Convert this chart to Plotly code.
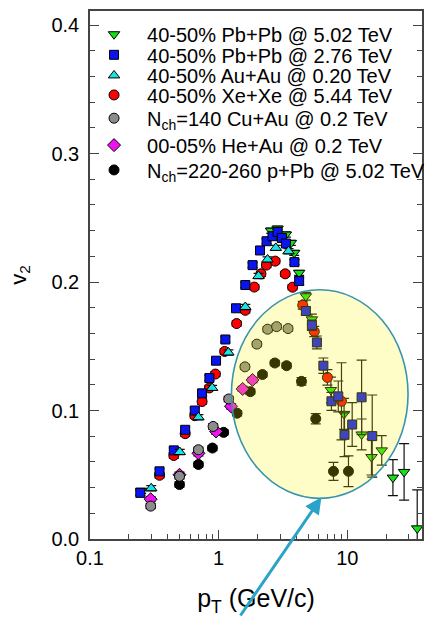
import plotly.graph_objects as go

FONT = "Liberation Sans, Arial, sans-serif"

# ---- data: v2 vs pT -------------------------------------------------------
# 40-50% Pb+Pb @ 5.02 TeV
pbpb502_pt = [0.25, 2.55, 2.87, 3.33, 3.64, 3.86, 4.22, 4.76, 5.3, 7.45, 9.43, 12.9, 15.4, 18.5, 22.6, 27.6, 34.9]
pbpb502_v2 = [0.0375, 0.240, 0.2416, 0.237, 0.2305, 0.2227, 0.2072, 0.189, 0.171, 0.116, 0.0974, 0.0814, 0.0638, 0.069, 0.0478, 0.0522, 0.0083]
pbpb502_err = [0.002, 0.002, 0.002, 0.002, 0.002, 0.002, 0.002, 0.003, 0.004, 0.010, 0.012, 0.012, 0.014, 0.0115, 0.014, 0.022, 0.030]

# 40-50% Pb+Pb @ 2.76 TeV
pbpb276_pt = [0.246, 0.347, 0.448, 0.549, 0.652, 0.743, 0.847, 0.954, 1.127, 1.364, 1.61, 1.834, 2.094, 2.356,
              2.62, 2.87, 3.1, 3.33, 3.88, 4.22, 4.76, 5.3, 5.8, 6.51, 7.52, 8.5, 9.5, 10.9, 12.9, 15.6]
pbpb276_v2 = [0.0359, 0.0527, 0.069, 0.085, 0.100, 0.1134, 0.1253, 0.1388, 0.1553, 0.1796, 0.1977, 0.2132, 0.2246, 0.2318,
              0.2357, 0.239, 0.2343, 0.230, 0.2155, 0.2008, 0.1775, 0.1664, 0.153, 0.1349, 0.1072, 0.111, 0.0811, 0.0891, 0.1103, 0.0801]
pbpb276_err = [0.002, 0.002, 0.002, 0.002, 0.002, 0.002, 0.002, 0.002, 0.002, 0.002, 0.002, 0.002, 0.002, 0.002,
               0.002, 0.002, 0.002, 0.002, 0.002, 0.003, 0.003, 0.004, 0.005, 0.006, 0.007, 0.012, 0.017, 0.017, 0.029, 0.032]

# 40-50% Au+Au @ 0.20 TeV
auau_pt = [0.299, 0.498, 0.696, 0.89, 1.189, 1.61, 2.04, 2.398, 2.78, 3.49]
auau_v2 = [0.0395, 0.0677, 0.0948, 0.1176, 0.1452, 0.1806, 0.2047, 0.2176, 0.2266, 0.224]
auau_err = [0.002] * 10

# 40-50% Xe+Xe @ 5.44 TeV
xexe_pt = [0.347, 0.448, 0.549, 0.652, 0.743, 0.847, 0.943, 1.113, 1.379, 1.61, 1.892, 2.13, 2.35, 2.75,
           3.29, 3.75, 4.5, 5.53, 7.0, 9.0]
xexe_v2 = [0.0496, 0.065, 0.082, 0.096, 0.107, 0.1176, 0.1284, 0.146, 0.1677, 0.178, 0.1961, 0.2064, 0.2132, 0.2163,
           0.2064, 0.196, 0.182, 0.1615, 0.1258, 0.1072]
xexe_err = [0.002] * 16 + [0.003, 0.004, 0.006, 0.030]

# Nch=140 Cu+Au @ 0.2 TeV
cuau_pt = [0.296, 0.496, 0.696, 0.905, 1.196, 1.6, 1.98, 2.4, 2.82, 3.46]
cuau_v2 = [0.0256, 0.0488, 0.0695, 0.0876, 0.109, 0.134, 0.1517, 0.1633, 0.1653, 0.1638]
cuau_err = [0.002] * 10

# 00-05% He+Au @ 0.2 TeV
heau_pt = [0.296, 0.496, 0.696, 0.954, 1.247, 1.536, 1.834]
heau_v2 = [0.031, 0.050, 0.0667, 0.0837, 0.1033, 0.1168, 0.1238]
heau_err = [0.002] * 7

# Nch=220-260 p+Pb @ 5.02 TeV
ppb_pt = [0.496, 0.696, 0.894, 1.093, 1.39, 1.76, 2.19, 2.73, 3.37, 4.4, 5.68, 7.8, 10.2]
ppb_v2 = [0.0424, 0.058, 0.0708, 0.083, 0.0979, 0.1147, 0.128, 0.137, 0.1349, 0.1227, 0.0936, 0.0527, 0.0527]
ppb_err = [0.002] * 9 + [0.003, 0.004, 0.007, 0.012]

# axis ticks
x_tickvals = [0.1, 1, 10]
x_ticktext = ["0.1", "1", "10"]
x_minor = [0.2, 0.3, 0.4, 0.5, 0.6, 0.7, 0.8, 0.9, 2, 3, 4, 5, 6, 7, 8, 9, 20, 30]
y_tickvals = [0.0, 0.1, 0.2, 0.3, 0.4]

# (name, x, y, err, symbol, colour, size, legend row); listed in drawing order
series = [
    ("40-50% Pb+Pb @ 5.02 TeV", pbpb502_pt, pbpb502_v2, pbpb502_err, "triangle-down", "#14e014", 10, 1),
    ("40-50% Xe+Xe @ 5.44 TeV", xexe_pt, xexe_v2, xexe_err, "circle", "#ff0000", 10, 4),
    ("40-50% Pb+Pb @ 2.76 TeV", pbpb276_pt, pbpb276_v2, pbpb276_err, "square", "#0a14f0", 9, 2),
    ("40-50% Au+Au @ 0.20 TeV", auau_pt, auau_v2, auau_err, "triangle-up", "#18e4e4", 10, 3),
    ("N<sub>ch</sub>=220-260 p+Pb @ 5.02 TeV", ppb_pt, ppb_v2, ppb_err, "circle", "#000000", 10, 7),
    ("00-05% He+Au @ 0.2 TeV", heau_pt, heau_v2, heau_err, "diamond", "#f010f0", 10, 6),
    ("N<sub>ch</sub>=140 Cu+Au @ 0.2 TeV", cuau_pt, cuau_v2, cuau_err, "circle", "#8c8c8c", 10, 5),
]

# vertical centre of each legend row (paper units, top to bottom)
legend_rows_y = [0.956, 0.917, 0.878, 0.841, 0.797, 0.746, 0.699]

fig = go.Figure()
for name, x, y, err, sym, col, size, row in series:
    fig.add_trace(go.Scatter(
        x=x, y=y, mode="markers", name=name, showlegend=True,
        legend="legend" if row == 1 else f"legend{row}",
        marker=dict(symbol=sym, color=col, size=size, line=dict(color="#000000", width=1)),
        error_y=dict(type="data", array=err, visible=True, color="#111111", thickness=1.2, width=5),
    ))

# highlighted high-pT region and the pointer to it
fig.add_shape(type="circle", xref="paper", yref="paper",
              x0=0.426, x1=0.958, y0=0.077, y1=0.472,
              fillcolor="rgba(255,245,0,0.22)", line=dict(color="#3a94ae", width=1.6),
              layer="above")
fig.add_annotation(xref="paper", yref="paper", x=0.697, y=0.079, text="",
                   showarrow=True, axref="pixel", ayref="pixel", ax=-82, ay=124,
                   arrowhead=2, arrowsize=1.1, arrowwidth=3, arrowcolor="#2ba3c8", standoff=0)

axis_line = dict(showline=True, linecolor="#444444", linewidth=1.5, showgrid=False, zeroline=False)

fig.update_xaxes(
    type="log", range=[-1, 1.58], tickvals=x_tickvals, ticktext=x_ticktext,
    ticks="inside", ticklen=9, tickcolor="#444444", mirror=True,
    minor=dict(tickvals=x_minor, ticks="inside", ticklen=5, tickcolor="#444444", showgrid=False),
    tickfont=dict(family=FONT, size=20, color="#000000"),
    title=dict(text="p<sub>T</sub> (GeV/c)", font=dict(family=FONT, size=25, color="#000000"), standoff=22),
    **axis_line,
)
fig.update_yaxes(
    range=[0, 0.411], tickvals=y_tickvals, tickformat=".1f",
    ticks="inside", ticklen=9, tickcolor="#444444", mirror="ticks",
    minor=dict(dtick=0.02, ticks="inside", ticklen=5, tickcolor="#444444", showgrid=False),
    tickfont=dict(family=FONT, size=20, color="#000000"),
    ticklabelstandoff=5,
    title=dict(text="v<sub>2</sub>", font=dict(family=FONT, size=22, color="#000000"), standoff=19),
    **axis_line,
)

legend_style = dict(x=-0.027, xanchor="left", yanchor="middle",
                    font=dict(family=FONT, size=20, color="#000000"),
                    bgcolor="rgba(0,0,0,0)", borderwidth=0, itemwidth=56)
legends = {("legend" if i == 0 else f"legend{i + 1}"): dict(y=yc, **legend_style)
           for i, yc in enumerate(legend_rows_y)}

fig.update_layout(
    width=433, height=617,
    margin=dict(l=90, r=10, t=9, b=78),
    paper_bgcolor="white", plot_bgcolor="white",
    font=dict(family=FONT, color="#000000"),
    showlegend=True,
    **legends,
)

fig.write_html("out.html")
